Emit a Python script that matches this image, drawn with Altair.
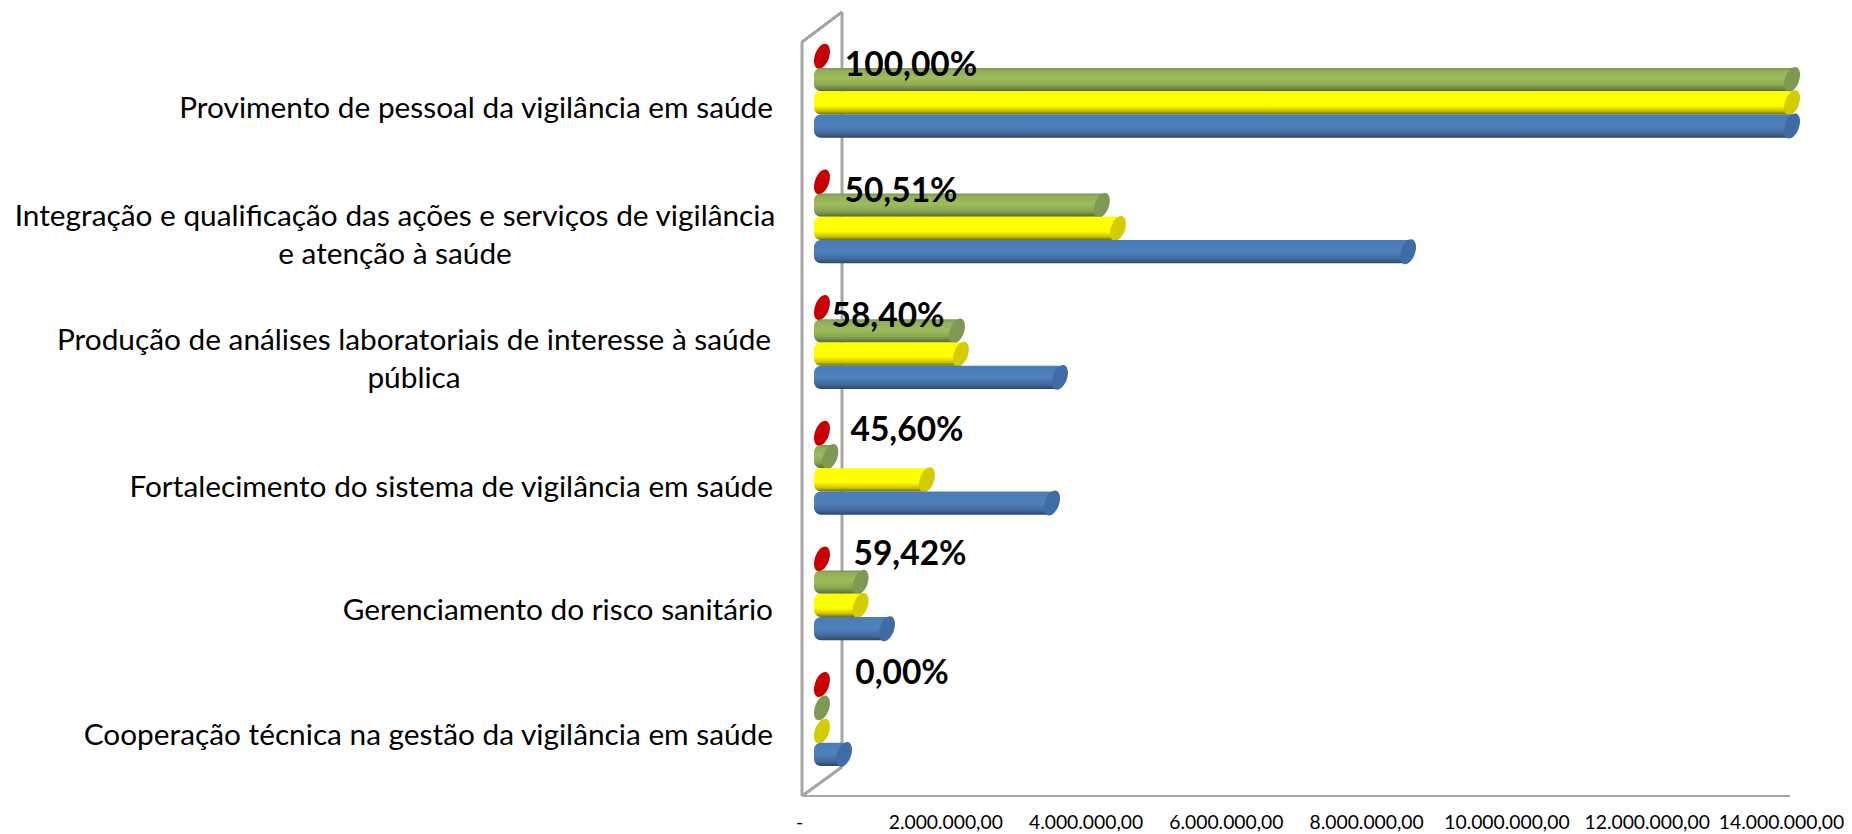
import math
import altair as alt
import pandas as pd

categories = [
    "Provimento de pessoal da vigilância em saúde",
    "Integração e qualificação das ações e serviços de vigilância\ne atenção à saúde",
    "Produção de análises laboratoriais de interesse à saúde\npública",
    "Fortalecimento do sistema de vigilância em saúde",
    "Gerenciamento do risco sanitário",
    "Cooperação técnica na gestão da vigilância em saúde",
]
series_names = ["Red", "Green", "Yellow", "Blue"]
red_values = [0, 0, 0, 0, 0, 0]
green_values = [13830000, 3990000, 1925000, 120000, 551000, 0]
yellow_values = [13830000, 4220000, 1980000, 1497000, 551000, 0]
blue_values = [13830000, 8355000, 3393000, 3280000, 927000, 314000]
percent_labels = ["100,00%", "50,51%", "58,40%", "45,60%", "59,42%", "0,00%"]
tick_values = [0, 2000000, 4000000, 6000000, 8000000, 10000000, 12000000, 14000000]

rows = []
for name, vals in zip(series_names, [red_values, green_values, yellow_values, blue_values]):
    for c, v in zip(categories, vals):
        rows.append({"cat": c, "series": name, "value": v})
df = pd.DataFrame(rows)
cat_df = pd.DataFrame({"cat": categories, "pct": percent_labels})

FONT = "Lato"
W, H = 982, 754
GREY = "#a6a6a6"

x_enc = alt.X("value:Q", scale=alt.Scale(domain=[0, 14000000], nice=False, zero=False),
              axis=alt.Axis(values=tick_values, title=None, grid=False, domain=False, ticks=False,
                            labelFont=FONT, labelFontSize=19.3, labelColor="#000000", labelPadding=17,
                            labelOverlap=False, labelFlush=False,
                            labelOffset={"condition": {"test": "datum.value === 0 || datum.value === 14000000",
                                                       "value": -6}, "value": 0},
                            labelExpr="datum.value === 0 ? '-' : "
                                      "format(datum.value / 1000000, 'd') + '.000.000,00'"))
y_enc = alt.Y("cat:N", sort=categories, axis=None,
              scale=alt.Scale(domain=categories, paddingInner=0, paddingOuter=0))
y_off = alt.YOffset("series:N", sort=series_names,
                    scale=alt.Scale(domain=series_names, paddingInner=0, paddingOuter=0.7, align=0.08))


def ellipse_path():
    # tilted ellipse in unit coordinates (the symbol is scaled by sqrt(size)/2)
    a, b, th, k = 13 / 25, 7.07 / 25, math.radians(20), 0.5523
    def p(u, v):
        x = u * math.sin(th) + v * math.cos(th)
        y = -u * math.cos(th) + v * math.sin(th)
        return f"{x:.4f} {y:.4f}"
    return (f"M{p(a,0)}C{p(a,k*b)} {p(k*a,b)} {p(0,b)}"
            f"C{p(-k*a,b)} {p(-a,k*b)} {p(-a,0)}"
            f"C{p(-a,-k*b)} {p(-k*a,-b)} {p(0,-b)}"
            f"C{p(k*a,-b)} {p(a,-k*b)} {p(a,0)}Z")


SHAPE = ellipse_path()


def grad(stops):
    return alt.Gradient(gradient="linear", x1=0, x2=0, y1=0, y2=1,
                        stops=[alt.GradientStop(offset=o, color=c) for o, c in stops])


styles = {
    "Green": (grad([(0, "#7d9255"), (0.12, "#93ae58"), (0.45, "#9dbd5a"), (0.75, "#8aa551"), (1, "#566b30")]), "#7d9a54"),
    "Yellow": (grad([(0, "#ffff00"), (0.62, "#ffff00"), (0.85, "#c9c200"), (1, "#6f6a12")]), "#d2cc00"),
    "Blue": (grad([(0, "#4a7cb8"), (0.5, "#4f81bd"), (0.8, "#416b9e"), (1, "#2c4768")]), "#3f6ba6"),
    "Red": (None, "#c80000"),
}


def wall(x0, x1, y0, y1):
    return alt.Chart(cat_df).mark_rule(color=GREY, strokeWidth=2.2).encode(
        x=alt.value(x0), x2=alt.value(x1), y=alt.value(y0), y2=alt.value(y1))


layers = [
    wall(37, 37, -30, H - 29),
    wall(-3, 37, 0, -30),
    wall(-3, 37, H, H - 29),
    wall(-3, -3, 0, H),
    wall(-3, W + 3, H, H),
]

base = alt.Chart(df)
for name in series_names:
    fill, cap = styles[name]
    if fill is not None:
        layers.append(
            base.transform_filter(f"datum.series === '{name}' && datum.value > 0")
            .mark_bar(color=fill, xOffset=17, x2Offset=9,
                      cornerRadiusTopLeft=7, cornerRadiusBottomLeft=7)
            .encode(x=x_enc, x2=alt.datum(0), y=y_enc, yOffset=y_off)
        )
    layers.append(
        base.transform_filter(f"datum.series === '{name}'")
        .mark_point(shape=SHAPE, filled=True, size=2500, opacity=1, color=cap, stroke=None, xOffset=17)
        .encode(x=x_enc, y=y_enc, yOffset=y_off)
    )

# category labels: one-line labels end at the same right edge, two-line labels are centred
for idx, dy in ((0, 4), (3, 6), (4, 3), (5, 3)):
    layers.append(
        alt.Chart(cat_df.iloc[[idx]]).mark_text(align="right", baseline="middle", font=FONT, fontSize=29.8,
                                                color="#000000", dy=dy)
        .encode(x=alt.value(-32), y=y_enc, text="cat:N")
    )
for idx, center, dy in ((1, -410, -14), (2, -391, -15)):
    layers.append(
        alt.Chart(cat_df.iloc[[idx]]).mark_text(align="center", baseline="middle", font=FONT, fontSize=29.8,
                                                color="#000000", lineBreak="\n", lineHeight=38, dy=dy)
        .encode(x=alt.value(center), y=y_enc, text="cat:N")
    )

# percentage labels, each nudged to where it sits in the picture
for idx, (dx, dy) in enumerate([(106, -39), (96, -39), (83, -39), (102, -51), (105, -53), (97, -59)]):
    layers.append(
        alt.Chart(cat_df.iloc[[idx]]).mark_text(align="center", baseline="middle", font=FONT, fontSize=33.5,
                                                fontWeight="bold", color="#000000", dx=dx, dy=dy)
        .encode(x=alt.value(0), y=y_enc, text="pct:N")
    )

chart = alt.layer(*layers).properties(
    width=W, height=H,
    autosize=alt.AutoSizeParams(type="none"),
    padding={"left": 797, "top": 34, "right": 57, "bottom": 38},
    background="#ffffff",
).configure_view(stroke=None)

chart.save("out.html", embed_options={"renderer": "svg", "actions": False})
